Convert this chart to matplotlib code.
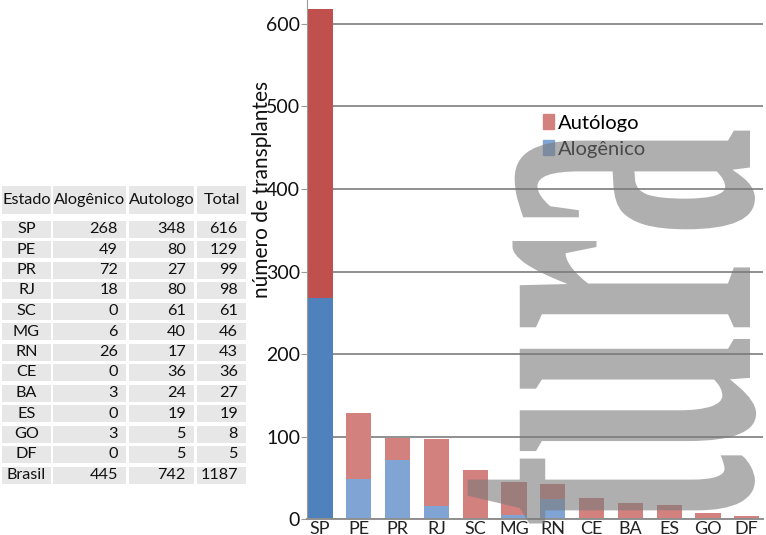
import numpy as np
import matplotlib.pyplot as plt
from matplotlib import patheffects
from matplotlib.patches import Patch, Rectangle
from matplotlib.transforms import Affine2D

plt.rcParams['font.family'] = ['Lato', 'DejaVu Sans']

# table on the left
cabecalho = ['Estado', 'Alogênico', 'Autologo', 'Total']
estados = ['SP', 'PE', 'PR', 'RJ', 'SC', 'MG', 'RN', 'CE', 'BA', 'ES', 'GO', 'DF', 'Brasil']
tab_alog = [268, 49, 72, 18, 0, 6, 26, 0, 3, 0, 3, 0, 445]
tab_auto = [348, 80, 27, 80, 61, 40, 17, 36, 24, 19, 5, 5, 742]
tab_total = [616, 129, 99, 98, 61, 46, 43, 36, 27, 19, 8, 5, 1187]

# bars
siglas = ['SP', 'PE', 'PR', 'RJ', 'SC', 'MG', 'RN', 'CE', 'BA', 'ES', 'GO', 'DF']
barra_alog = [268, 49, 72, 16, 0, 5, 25, 0, 2, 0, 2, 0]
barra_auto = [350, 80, 27, 81, 60, 40, 18, 26, 18, 17, 6, 4]
yticks = [0, 100, 200, 300, 400, 500, 600]

W, H = 766, 535
fig = plt.figure(figsize=(W / 100, H / 100), dpi=100)

# ---- table
tax = fig.add_axes([0, 0, 1, 1])
tax.set_xlim(0, W)
tax.set_ylim(H, 0)
tax.axis('off')
col_l = [2, 53, 129, 197]
col_r = [51, 126, 194, 246]
cinza = '#e7e7e7'
y_head = 200
for j in range(4):
    tax.add_patch(Rectangle((col_l[j], y_head - 14), col_r[j] - col_l[j], 28,
                            color=cinza, lw=0))
    tax.text((col_l[j] + col_r[j]) / 2, y_head, cabecalho[j], ha='center',
             va='center', fontsize=11.7, color='#111111')
row0, dy = 229, 20.5
for i in range(len(estados)):
    y = row0 + i * dy
    for j in range(4):
        tax.add_patch(Rectangle((col_l[j], y - 8.5), col_r[j] - col_l[j], 17,
                                color=cinza, lw=0))
    tax.text((col_l[0] + col_r[0]) / 2, y, estados[i], ha='center', va='center',
             fontsize=11.7, color='#111111')
    for j, v in zip([1, 2, 3], [tab_alog[i], tab_auto[i], tab_total[i]]):
        tax.text(col_r[j] - 8, y, str(v), ha='right', va='center',
                 fontsize=11.7, color='#111111')

# ---- bar chart
ax = fig.add_axes([307 / W, 1 - 519.3 / H, 456 / W, 519.3 / H])
x = np.arange(len(siglas))
cor_auto = ['#c0504d'] + ['#d3817f'] * (len(siglas) - 1)
cor_alog = ['#4f81bd'] + ['#80a5d4'] * (len(siglas) - 1)
ax.bar(x, barra_alog, width=0.65, color=cor_alog, zorder=2)
ax.bar(x, barra_auto, width=0.65, bottom=barra_alog, color=cor_auto, zorder=2)
ax.set_xlim(-0.335, 11.42)
ax.set_ylim(0, 628.7)
ax.set_yticks(yticks)
ax.set_xticks(x)
ax.set_xticklabels(siglas)
ax.yaxis.grid(True, color='#8f8f8f', lw=1.4)
ax.set_axisbelow(True)
for s in ['top', 'right']:
    ax.spines[s].set_visible(False)
ax.spines['left'].set_color('#9a9a9a')
ax.spines['bottom'].set_color('#8f8f8f')
ax.spines['bottom'].set_linewidth(1.4)
ax.tick_params(axis='y', length=4, color='#9a9a9a', labelsize=14, pad=1,
               labelcolor='#111111')
ax.tick_params(axis='x', length=0, labelsize=13, pad=1, labelcolor='#222222')
ax.set_ylabel('número de transplantes', fontsize=15, color='#111111')
ax.yaxis.set_label_coords(-0.077, 0.635)

leg = ax.legend([Patch(color='#d3817f'), Patch(color='#80a5d4')],
                ['Autólogo', 'Alogênico'], frameon=False, fontsize=14.5,
                loc='upper left', bbox_to_anchor=(533 / W, 1 - 104 / H),
                bbox_transform=fig.transFigure, borderpad=0,
                handlelength=0.55, handleheight=0.8, handletextpad=0.2,
                labelspacing=0.4)


# ---- watermark, stretched tall
class Esticar(patheffects.AbstractPathEffect):
    def __init__(self, k):
        super().__init__()
        self.k = k

    def draw_path(self, renderer, gc, tpath, affine, rgbFace=None):
        renderer.draw_path(gc, tpath, Affine2D().scale(1, self.k) + affine, rgbFace)


fig.text(750 / W, 1 - 527 / H, 'tura', rotation=90, rotation_mode='anchor',
         ha='left', va='baseline', family='Liberation Serif', weight='bold',
         fontsize=157, color='#7a7a7a', alpha=0.6, zorder=10,
         path_effects=[Esticar(2.3)])

fig.savefig('out.png', dpi=100)
